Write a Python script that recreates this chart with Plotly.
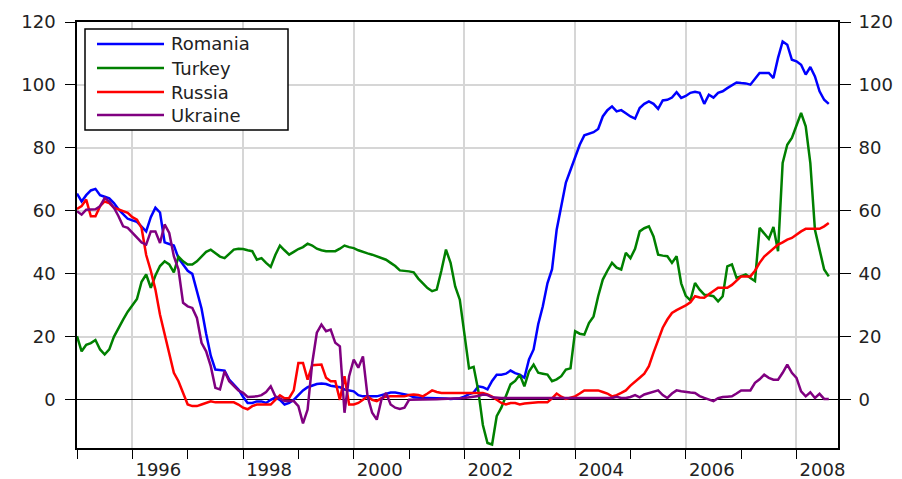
import plotly.graph_objects as go

# monthly observations, 1995M01 .. 2008M08
start_year = 1995
romania = [65.5, 63, 65, 66.5, 67, 65, 64.5, 64, 62.5, 60.5, 59, 57.5,
           57, 56.5, 55, 53.5, 58, 61, 59.5, 50, 49.5, 49, 45, 43,
           41, 40, 34, 29, 21, 14, 9.6, 9.5, 9.3, 6.4, 5, 3.3,
           1, -1, -1, -0.5, -0.5, -1, 0, 0.7, 0, -1.5, -1, 0,
           1.5, 3, 4, 4.6, 5, 5.2, 5, 4.5, 4.3, 4, 3.3, 3,
           2.7, 1.5, 1.1, 1.1, 1.1, 1.1, 1.5, 2, 2.3, 2.3, 2, 1.8,
           1.5, 0.8, 0.6, 0.6, 0.6, 0.6, 0.6, 0.5, 0.4, 0.3, 0.3, 0.5,
           1, 1.8, 2.3, 4.3, 4, 3.3, 6, 8, 8, 8.3, 9.3, 8.5,
           8, 7, 12.8, 16, 24, 29.7, 37, 41.5, 54, 62, 69, 73,
           77, 81, 84, 84.5, 85, 86, 90, 92, 93.2, 91.6, 92, 91,
           90, 89.3, 92.7, 94, 94.8, 94, 92.4, 95.1, 95.3, 96, 97.7, 95.9,
           96.5, 97.5, 97.8, 97.5, 94, 96.9, 96, 97.5, 98, 99, 100, 100.8,
           100.6, 100.5, 100.1, 102, 103.8, 103.8, 103.8, 102.2, 108.6, 113.8, 112.8, 108,
           107.5, 106.4, 103.3, 105.7, 102.7, 98, 95.3, 94]
turkey = [20.2, 15.4, 17.5, 18, 19, 16, 14.4, 16, 20, 23, 25.5, 28,
          30, 32, 37.5, 39.8, 35.6, 39.5, 42.5, 44, 43, 40.5, 45.5, 44,
          43, 43, 44, 45.5, 47, 47.7, 46.5, 45.5, 45, 46.5, 47.7, 48,
          47.9, 47.5, 47.2, 44.5, 45, 43.5, 42.2, 46, 49, 47.5, 46.1, 47,
          47.9, 48.5, 49.6, 49, 48, 47.5, 47.2, 47.2, 47.2, 48, 49, 48.5,
          48.2, 47.5, 46.9, 46.5, 46.1, 45.5, 45, 44.5, 43.5, 42.5, 41.1, 41,
          40.8, 40.5, 38.5, 37, 35.5, 34.5, 35, 41, 47.7, 43.5, 36, 31.8,
          20, 10, 10.5, 3, -8, -13.7, -14.2, -5.2, -2.5, 1, 4.9, 6,
          8, 4.3, 9, 11.2, 8.6, 8.3, 8, 5.9, 6.5, 7.5, 9.6, 10,
          21.8, 21, 20.7, 24.4, 26.5, 32.9, 38.2, 41, 43.5, 42, 41.4, 46.7,
          45, 48, 53.5, 54.5, 55.1, 51.9, 46.1, 45.8, 45.6, 43.5, 45.6, 37,
          33, 31.6, 37.1, 35, 33.4, 33.2, 32.9, 31.3, 32.9, 42.4, 43, 38.7,
          39.2, 39.8, 38.7, 37.7, 54.6, 53, 51.1, 54.9, 47.2, 75.2, 81, 83.2,
          86.9, 91.1, 86.9, 75.2, 54, 47.7, 41.4, 39.2]
russia = [60.6, 61.5, 63.6, 58.3, 58.3, 61.5, 63, 62.5, 61, 60.4, 60, 59.4,
          58, 57.2, 54.6, 46, 41, 35, 27, 21, 14, 8.6, 5.9, 2.2,
          -1.5, -2, -2, -1.5, -1, -0.5, -0.8, -0.8, -0.8, -0.8, -0.8, -1.5,
          -2.5, -3, -2, -1.5, -1.5, -1.5, -1.5, 0, 1.4, 0.5, 0.6, 3,
          11.7, 11.7, 6.4, 11, 11.2, 11.2, 7, 5.9, 5.9, 0, 7.5, -1.5,
          -1.5, -1, 0, 1.1, 0, -0.4, 0.5, 1, 1.1, 1.1, 1.1, 1.1,
          1.5, 1.7, 1.5, 1.1, 2, 3, 2.5, 2.2, 2.2, 2.2, 2.2, 2.2,
          2.2, 2.2, 2.2, 2.2, 2.2, 1.7, 1, 0, -1, -1.5, -1, -1,
          -1.5, -1.2, -1, -1, -0.8, -0.8, -0.8, 0.5, 2, 1, 0.3, 0.7,
          1.1, 2, 3, 3, 3, 3, 2.5, 2, 1.1, 1.5, 2.2, 3,
          4.5, 5.9, 7, 8.3, 10.7, 15, 19, 22.9, 25.5, 27.6, 28.5, 29.2,
          30, 31, 32.9, 32.5, 32.4, 33.5, 34.5, 35.6, 35.6, 35.6, 36.5, 38,
          39.2, 39.2, 39.2, 41, 43.5, 45.5, 46.7, 48, 49.3, 50, 50.9, 51.4,
          52.5, 53.5, 54.3, 54.3, 54.3, 54.3, 55.1, 56.2]
ukraine = [59.9, 58.8, 60.4, 60.4, 60.5, 61.5, 64.1, 63, 61, 58.3, 55.1, 54.6,
           53, 51.5, 50, 49.3, 53.5, 53.5, 49.8, 55.7, 53, 45.6, 41.4, 30.8,
           29.7, 29.2, 26, 18.1, 15.4, 10.7, 3.8, 3.3, 9.1, 5.9, 4.3, 3,
           2.2, 0.9, 1, 1.1, 1.5, 2.5, 4.3, 1.1, 0.5, -0.4, -0.4, -0.4,
           -2, -7.5, -3.1, 11.7, 21.3, 23.9, 21.8, 22.3, 18.1, 17, -4.1, 7.5,
           12.8, 10.2, 13.8, 1.1, -4.1, -6.3, 0, 2.2, -1.5, -2.5, -2.9, -2.5,
           0, 0, 0, 0.2, 0.2, 0.2, 0.2, 0.3, 0.3, 0.3, 0.5, 0.5,
           0.6, 0.8, 1, 1.2, 1.7, 1.5, 0.8, 0.6, 0.6, 0.6, 0.6, 0.6,
           0.6, 0.6, 0.6, 0.6, 0.6, 0.6, 0.6, 0.6, 0.6, 0.6, 0.6, 0.6,
           0.6, 0.6, 0.6, 0.8, 0.6, 0.6, 0.6, 0.6, 0.6, 1, 0.6, 0.6,
           0.9, 1.5, 0.8, 1.7, 2.2, 2.5, 3, 1.5, 0.6, 2, 3, 2.7,
           2.4, 2.3, 2.2, 1.2, 0.6, 0, -0.4, 0.5, 0.9, 1, 1.1, 2,
           3, 3, 3, 5.4, 6.5, 8, 7, 6.4, 6.4, 8.6, 11.2, 8.6,
           7, 2.7, 1.1, 2.4, 0.6, 1.9, 0.3, 0.3]

series = [("Romania", romania, "#0000ff"),
          ("Turkey", turkey, "#008000"),
          ("Russia", russia, "#ff0000"),
          ("Ukraine", ukraine, "#800080")]

year_labels = [1996, 1998, 2000, 2002, 2004, 2006, 2008]
y_ticks = [0, 20, 40, 60, 80, 100, 120]

# the page body adds an 8px margin, so work in page pixels minus 8
OFF = 8
W, H = 902 - OFF, 479
L, R, T, B = 77 - OFF, 838 - OFF, 22 - OFF, 448 - OFF
x_range = [1995, 2008.75]
y_range = [-15.3, 120]
font = dict(family="DejaVu Sans", size=18, color="#222222")


def px(x):
    return (x - OFF - L) / (R - L)


def py(y):
    return (B - (y - OFF)) / (B - T)


months = [start_year + i / 12 for i in range(len(romania))]

fig = go.Figure()
for name, vals, col in series:
    fig.add_trace(go.Scatter(x=months, y=vals, mode="lines", name=name,
                             line=dict(color=col, width=2.5), showlegend=False))
# dummy trace so the label axes render
fig.add_trace(go.Scatter(x=x_range, y=y_range, xaxis="x2", yaxis="y2", mode="markers",
                         marker=dict(opacity=0), showlegend=False, hoverinfo="skip"))

fig.update_layout(
    width=W, height=H,
    margin=dict(l=L, r=W - R, t=T, b=H - B, autoexpand=False),
    paper_bgcolor="white", plot_bgcolor="white",
    font=font,
    xaxis=dict(range=x_range, tickvals=year_labels, showticklabels=False,
               ticks="outside", ticklen=9, tickcolor="black",
               showgrid=True, gridcolor="#d6d6d6", gridwidth=1.5,
               minor=dict(tickvals=[1995, 1997, 1999, 2001, 2003, 2005, 2007],
                          ticks="outside", ticklen=9, tickcolor="black", showgrid=False),
               showline=True, linecolor="black", linewidth=1.5, mirror=True,
               zeroline=False, automargin=False),
    xaxis2=dict(range=x_range, overlaying="x", side="bottom", anchor="y",
                tickvals=[y + 0.47 for y in year_labels], ticktext=[str(y) for y in year_labels],
                ticks="", showgrid=False, showline=False, zeroline=False,
                ticklabelstandoff=9, automargin=False),
    yaxis=dict(range=y_range, tickvals=y_ticks, ticks="outside", ticklen=10,
               tickcolor="black", ticklabelstandoff=6,
               showgrid=True, gridcolor="#d6d6d6", gridwidth=1.5,
               zeroline=True, zerolinecolor="black", zerolinewidth=1,
               showline=True, linecolor="black", linewidth=1.5, mirror=True,
               automargin=False),
    yaxis2=dict(range=y_range, tickvals=y_ticks, overlaying="y", side="right", anchor="x",
                ticks="outside", ticklen=12, tickcolor="black", ticklabelstandoff=4,
                showgrid=False, zeroline=False, showline=False, automargin=False),
)

# legend box drawn by hand (long line samples as in the original)
fig.add_shape(type="rect", xref="paper", yref="paper",
              x0=px(85), x1=px(288), y0=py(130), y1=py(29),
              line=dict(color="black", width=1.5), fillcolor="white", layer="above")
rows = [44, 68, 92, 115]
for (name, vals, col), ry in zip(series, rows):
    fig.add_shape(type="line", xref="paper", yref="paper",
                  x0=px(97), x1=px(164), y0=py(ry), y1=py(ry),
                  line=dict(color=col, width=2.5), layer="above")
    fig.add_annotation(text=name, xref="paper", yref="paper", x=px(169), y=py(ry),
                       xanchor="left", yanchor="middle", showarrow=False,
                       font=font)

fig.write_html("out.html")
